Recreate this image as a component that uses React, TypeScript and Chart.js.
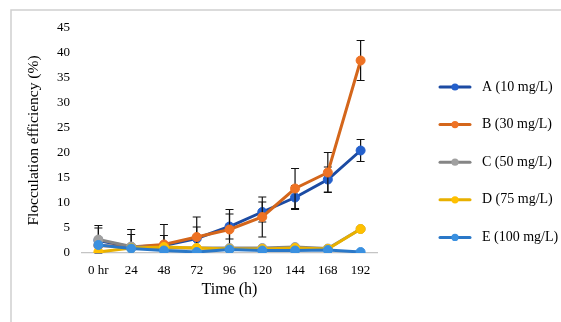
import { useEffect, useRef } from "react";
import { Chart, registerables } from "chart.js";

Chart.register(...registerables);

const categories = ["0 hr", "24", "48", "72", "96", "120", "144", "168", "192"];
const seriesLabels = ["A (10 mg/L)", "B (30 mg/L)", "C (50 mg/L)", "D (75 mg/L)", "E (100 mg/L)"];
const seriesA = [2.5, 1.2, 1.5, 2.9, 5.3, 8.2, 11.1, 14.7, 20.5];
const seriesB = [1.5, 1.2, 1.7, 3.2, 4.7, 7.2, 12.9, 16.1, 38.5];
const seriesC = [2.7, 1.3, 1.0, 1.0, 1.0, 1.0, 1.2, 0.9, 4.8];
const seriesD = [0.2, 1.0, 1.2, 1.0, 0.8, 0.8, 1.0, 0.8, 4.8];
const seriesE = [1.6, 0.9, 0.5, 0.2, 0.7, 0.5, 0.5, 0.6, 0.2];
const errorA = [2.5, 2.5, 2.0, 2.3, 2.5, 2.0, 2.4, 2.5, 2.2];
const errorB = [4.0, 3.5, 4.0, 4.0, 4.0, 4.0, 4.0, 4.0, 4.0];
const yTicks = [0, 5, 10, 15, 20, 25, 30, 35, 40, 45];

const lineColors = ["#1c4ba3", "#d4661b", "#858585", "#e8b000", "#2a78c8"];
const pointColors = ["#2460cc", "#ee7224", "#a0a0a0", "#ffc000", "#3a90e0"];
const allSeries = [seriesA, seriesB, seriesC, seriesD, seriesE];
const allErrors: (number[] | null)[] = [errorA, errorB, null, null, null];

const SERIF = "'Liberation Serif', 'Times New Roman', serif";

const errorBarPlugin = {
  id: "errorBars",
  beforeDatasetDraw(chart: any, args: any) {
    const idx = args.index;
    const errs = allErrors[idx];
    if (!errs) return;
    const ctx = chart.ctx;
    const meta = chart.getDatasetMeta(idx);
    const y = chart.scales.y;
    ctx.save();
    ctx.strokeStyle = "#111111";
    ctx.lineWidth = 1.2;
    meta.data.forEach((pt: any, i: number) => {
      const v = allSeries[idx][i];
      const e = errs[i];
      const x = pt.x;
      const yt = y.getPixelForValue(v + e);
      const lo = v - e;
      ctx.beginPath();
      ctx.moveTo(x - 4, yt);
      ctx.lineTo(x + 4, yt);
      ctx.moveTo(x, yt);
      if (lo >= 0) {
        const yb = y.getPixelForValue(lo);
        ctx.lineTo(x, yb);
        ctx.moveTo(x - 4, yb);
        ctx.lineTo(x + 4, yb);
      } else {
        ctx.lineTo(x, y.getPixelForValue(0));
      }
      ctx.stroke();
    });
    ctx.restore();
  },
};

const framePlugin = {
  id: "frameAndLegend",
  beforeDraw(chart: any) {
    const ctx = chart.ctx;
    ctx.save();
    ctx.fillStyle = "#ffffff";
    ctx.fillRect(0, 0, chart.width, chart.height);
    ctx.strokeStyle = "#d0d0d0";
    ctx.lineWidth = 1.5;
    ctx.beginPath();
    ctx.moveTo(11, chart.height);
    ctx.lineTo(11, 10);
    ctx.lineTo(chart.width, 10);
    ctx.stroke();
    ctx.restore();
  },
  afterDraw(chart: any) {
    const ctx = chart.ctx;
    ctx.save();
    chart.data.datasets.forEach((ds: any, i: number) => {
      const yy = 87 + i * 37.6;
      ctx.strokeStyle = lineColors[i];
      ctx.lineWidth = 3;
      ctx.lineCap = "round";
      ctx.beginPath();
      ctx.moveTo(440, yy);
      ctx.lineTo(470, yy);
      ctx.stroke();
      ctx.fillStyle = pointColors[i];
      ctx.beginPath();
      ctx.arc(455, yy, 3.6, 0, Math.PI * 2);
      ctx.fill();
      ctx.fillStyle = "#000000";
      ctx.font = `14px ${SERIF}`;
      ctx.textBaseline = "middle";
      ctx.textAlign = "left";
      ctx.fillText(ds.label, 482, yy);
    });
    ctx.restore();
  },
};

export default function App() {
  const ref = useRef<HTMLCanvasElement | null>(null);
  useEffect(() => {
    document.body.style.margin = "0";
    if (!ref.current) return;
    const chart = new Chart(ref.current, {
      type: "line",
      data: {
        labels: categories,
        datasets: allSeries.map((s, i) => ({
          label: seriesLabels[i],
          data: s,
          borderColor: lineColors[i],
          backgroundColor: pointColors[i],
          pointBackgroundColor: pointColors[i],
          pointBorderColor: pointColors[i],
          pointRadius: 4.5,
          pointBorderWidth: 1,
          borderWidth: 3,
          tension: 0,
          fill: false,
          order: 4 - i,
        })),
      },
      options: {
        animation: false,
        responsive: false,
        maintainAspectRatio: false,
        events: [],
        layout: { padding: { left: 25, right: 184, top: 28, bottom: 23 } },
        plugins: { legend: { display: false }, tooltip: { enabled: false } },
        scales: {
          x: {
            type: "category",
            offset: true,
            grid: { display: false, drawTicks: false },
            border: { display: true, color: "#c4c4c4", width: 1.2 },
            ticks: { color: "#000", font: { family: SERIF, size: 13 }, padding: 10, maxRotation: 0, autoSkip: false },
            title: { display: true, text: "Time (h)", color: "#000", font: { family: SERIF, size: 16 }, padding: 0 },
            afterFit: (s: any) => { s.height = 46; },
          },
          y: {
            min: 0,
            max: 45,
            afterBuildTicks: (s: any) => { s.ticks = yTicks.map((v) => ({ value: v })); },
            grid: { display: false, drawTicks: false },
            border: { display: false },
            ticks: { color: "#000", font: { family: SERIF, size: 13 }, padding: 12 },
            title: { display: true, text: "Flocculation efficiency (%)", color: "#000", font: { family: SERIF, size: 15.5 }, padding: 0 },
            afterFit: (s: any) => { s.width = 57; },
          },
        },
      },
      plugins: [framePlugin, errorBarPlugin],
    });
    return () => chart.destroy();
  }, []);
  return (
    <div style={{ position: "relative", width: 561, height: 322 }}>
      <canvas ref={ref} width={561} height={322} style={{ display: "block", width: 561, height: 322 }} />
    </div>
  );
}
